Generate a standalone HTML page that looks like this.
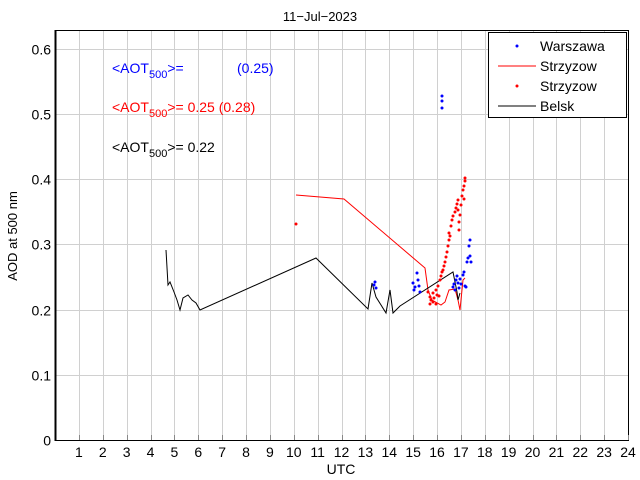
<!DOCTYPE html>
<html><head><style>body{margin:0;background:#fff}svg{display:block}text{font-family:"Liberation Sans",sans-serif}</style></head>
<body>
<svg width="640" height="480" xmlns="http://www.w3.org/2000/svg" id="s">
<rect width="640" height="480" fill="#fff"/>
<g id="grid" stroke="#d0d0d0" stroke-width="1"></g>
<rect x="55.5" y="30.5" width="573" height="410" fill="none" stroke="#000" stroke-width="1"/>
<line x1="55.5" y1="30" x2="55.5" y2="441" stroke="#000" stroke-width="2"/>
<g id="ticks" font-size="14" fill="#000"></g>
<text x="320" y="21" font-size="13" text-anchor="middle">11−Jul−2023</text>
<text x="341" y="474" font-size="14" text-anchor="middle">UTC</text>
<text transform="translate(17,236) rotate(-90)" font-size="13" text-anchor="middle">AOD at 500 nm</text>
<g font-size="14">
<text x="112" y="73" fill="#0000ff">&lt;AOT<tspan font-size="11" dy="5">500</tspan><tspan dy="-5">&gt;=</tspan></text>
<text x="237" y="73" fill="#0000ff">(0.25)</text>
<text x="112" y="112" fill="#ff0000">&lt;AOT<tspan font-size="11" dy="5">500</tspan><tspan dy="-5">&gt;= 0.25 (0.28)</tspan></text>
<text x="112" y="152" fill="#000">&lt;AOT<tspan font-size="11" dy="5">500</tspan><tspan dy="-5">&gt;= 0.22</tspan></text>
</g>
<polyline fill="none" stroke="#ff0000" stroke-width="1" points="296,195 344,199 425,268 428,290 432,300 441,305 445,302 449,290 455,289 458,300 460,310 463,280 465,278"/>
<polyline fill="none" stroke="#000" stroke-width="1" points="166,250 168,285 170,282 174,292 177,300 180,310 183,298 188,295 192,300 196,303 200,310 316,258 368,309 372,283 376,297 386,313 390,290 393,313 400,306 453,272 457,292 458,300 460,293"/>
<g id="dots"></g>
<rect x="488.5" y="32.5" width="138" height="85" fill="#fff" stroke="#000"/>
<g font-size="14">
<circle cx="517" cy="46" r="1.5" fill="#0000ff"/><text x="540" y="51">Warszawa</text>
<line x1="498" y1="66" x2="536" y2="66" stroke="#ff0000"/><text x="540" y="71">Strzyzow</text>
<circle cx="517" cy="86" r="1.5" fill="#ff0000"/><text x="540" y="91">Strzyzow</text>
<line x1="498" y1="106" x2="536" y2="106" stroke="#000"/><text x="540" y="111">Belsk</text>
</g>
<script>
var s="http://www.w3.org/2000/svg",g=document.getElementById('grid'),t=document.getElementById('ticks'),d=document.getElementById('dots');
function X(h){return 55+23.875*h}function Y(v){return 440-651.7*v}
function el(p,n,a){var e=document.createElementNS(s,n);for(var k in a)e.setAttribute(k,a[k]);p.appendChild(e);return e}
for(var h=1;h<=24;h++){var x=Math.round(X(h))+.5;el(g,'line',{x1:x,y1:31,x2:x,y2:440});el(t,'line',{x1:x,y1:440,x2:x,y2:435,stroke:'#888'});var tx=el(t,'text',{x:X(h),y:457,'text-anchor':'middle'});tx.textContent=h;}
for(var i=0;i<=6;i++){var y=Math.round(Y(i/10))+.5;if(i>0)el(g,'line',{x1:56,y1:y,x2:628,y2:y});var ty=el(t,'text',{x:51,y:y+5,'text-anchor':'end'});ty.textContent=i==0?'0':(i/10).toFixed(1);}
var red=[[296,224],[428,292],[430,297],[431,300],[433,293],[434,298],[436,290],[437,295],[438,286],[440,280],[441,276],[442,272],[443,270],[444,266],[445,262],[446,257],[447,252],[448,246],[449,240],[449,233],[450,236],[451,226],[452,220],[453,216],[455,212],[456,208],[457,204],[458,200],[458,210],[459,222],[459,230],[460,215],[461,205],[462,196],[463,190],[464,186],[464,199],[465,178],[465,181],[430,304],[433,302],[436,304],[439,296]];
red.forEach(function(p){el(d,'circle',{cx:p[0],cy:p[1],r:1.5,fill:'#ff0000'})});
var blue=[[374,285],[375,282],[376,288],[413,283],[414,290],[415,287],[417,273],[418,280],[419,286],[420,292],[442,96],[442,101],[442,108],[453,287],[454,284],[455,290],[456,280],[457,276],[458,283],[459,288],[460,279],[461,284],[463,275],[464,272],[465,286],[466,287],[467,262],[468,258],[469,246],[470,240],[470,256],[471,262]];
blue.forEach(function(p){el(d,'circle',{cx:p[0],cy:p[1],r:1.5,fill:'#0000ff'})});
</script>
</svg>
</body></html>
